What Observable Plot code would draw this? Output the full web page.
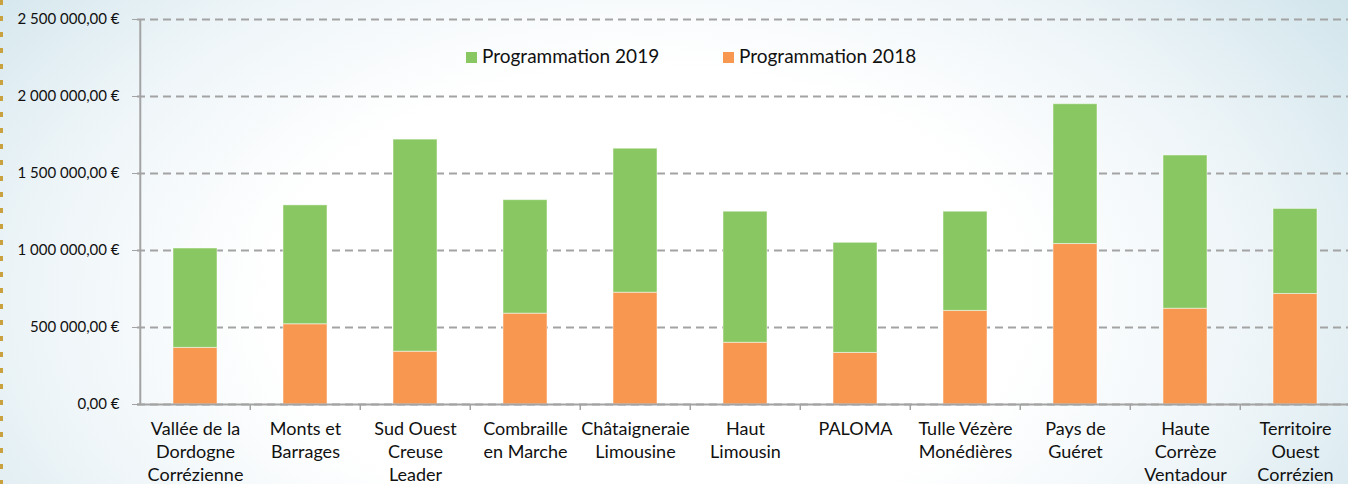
<!DOCTYPE html>
<html>
<head>
<meta charset="utf-8">
<script src="https://cdn.jsdelivr.net/npm/d3@7"></script>
<script src="https://cdn.jsdelivr.net/npm/@observablehq/plot@0.6"></script>
<style>
  html, body { margin: 0; padding: 0; }
  #wrap {
    position: relative; width: 1348px; height: 484px; overflow: hidden;
    background: radial-gradient(ellipse 70% 120% at 48% 62%, #ffffff 40%, #eef5f8 65%, #c6dfe7 100%);
    font-family: Lato, "Open Sans", sans-serif;
  }
  #border {
    position: absolute; left: 0; top: 0; width: 3px; height: 484px;
    background: repeating-linear-gradient(to bottom, #c9a23f 0 5px, transparent 5px 16px);
  }
  .sw { position: absolute; width: 11px; height: 11px; top: 52px; }
  .lt { position: absolute; top: 46px; font-size: 19px; line-height: 19px; color: #111; white-space: nowrap; }
</style>
</head>
<body>
<div id="wrap"><div id="border"></div></div>
<script>
const categories = ["Vallée de la Dordogne Corrézienne","Monts et Barrages","Sud Ouest Creuse Leader","Combraille en Marche","Châtaigneraie Limousine","Haut Limousin","PALOMA","Tulle Vézère Monédières","Pays de Guéret","Haute Corrèze Ventadour","Territoire Ouest Corrézien"];
const xLabels = ["Vallée de la\nDordogne\nCorrézienne","Monts et\nBarrages","Sud Ouest\nCreuse\nLeader","Combraille\nen Marche","Châtaigneraie\nLimousine","Haut\nLimousin","PALOMA","Tulle Vézère\nMonédières","Pays de\nGuéret","Haute\nCorrèze\nVentadour","Territoire\nOuest\nCorrézien"];
const prog2018 = [368000, 521000, 343000, 590000, 726000, 401000, 335000, 608000, 1042000, 622000, 718000];
const prog2019 = [645000, 772000, 1377000, 737000, 935000, 851000, 715000, 644000, 908000, 995000, 552000];
const seriesNames = ["Programmation 2018", "Programmation 2019"];
const seriesColors = ["#f79750", "#88c761"];
const yTicks = [0, 500000, 1000000, 1500000, 2000000, 2500000];

const rows = [];
categories.forEach((c, i) => rows.push({cat: c, series: seriesNames[0], value: prog2018[i]}));
categories.forEach((c, i) => rows.push({cat: c, series: seriesNames[1], value: prog2019[i]}));

const W = 1348, H = 484, ML = 137, MR = -4, MT = 19, MB = 80;
const half = (W - ML - MR) / categories.length / 2;

const fr = d3.formatLocale({decimal: ",", thousands: "\u00a0", grouping: [3], currency: ["", "\u00a0€"]});
const fmt = fr.format("$,.2f");

const chart = Plot.plot({
  width: W, height: H,
  marginLeft: ML, marginRight: MR, marginTop: MT, marginBottom: MB,
  style: {background: "transparent", fontFamily: "Lato, 'Open Sans', sans-serif", color: "#111", overflow: "visible"},
  x: {domain: categories, padding: 0, label: null},
  y: {domain: [0, 2500000], label: null},
  color: {domain: seriesNames, range: seriesColors},
  marks: [
    Plot.gridY(yTicks, {stroke: "#a3a3a3", strokeOpacity: 1, strokeWidth: 2, strokeDasharray: "8,5"}),
    Plot.barY(rows, Plot.stackY({x: "cat", y: "value", fill: "series", order: seriesNames, insetLeft: 33, insetRight: 33, stroke: "#ffffff", strokeOpacity: 0.5, strokeWidth: 1})),
    Plot.ruleY([0], {stroke: "#a3a3a3", strokeWidth: 2}),
    Plot.ruleX([categories[0]], {x: d => d, dx: -half, y1: 0, y2: 2500000, stroke: "#a3a3a3", strokeWidth: 2}),
    Plot.ruleX(categories.slice(1), {x: d => d, dx: -half, y1: 0, y2: 0, insetBottom: -6, stroke: "#a3a3a3", strokeWidth: 1.5}),
    Plot.axisY(yTicks, {tickFormat: fmt, tickSize: 5, tickPadding: 13, fontSize: 15, stroke: "#a3a3a3", strokeOpacity: 1, fill: "#111", label: null}),
    Plot.axisX({tickSize: 0, tickPadding: 14, fontSize: 18, lineHeight: 1.29, fill: "#111", tickFormat: d => xLabels[categories.indexOf(d)], label: null})
  ]
});
const wrap = document.getElementById("wrap");
wrap.appendChild(chart);
chart.style.position = "absolute"; chart.style.left = "0"; chart.style.top = "0";

const legendItems = [[1, 466], [0, 723]];
legendItems.forEach(([i, left]) => {
  const sw = document.createElement("div");
  sw.className = "sw"; sw.style.background = seriesColors[i]; sw.style.left = left + "px";
  const tx = document.createElement("div");
  tx.className = "lt"; tx.style.left = (left + 16) + "px";
  tx.textContent = seriesNames[i];
  wrap.appendChild(sw); wrap.appendChild(tx);
});
</script>
</body>
</html>
